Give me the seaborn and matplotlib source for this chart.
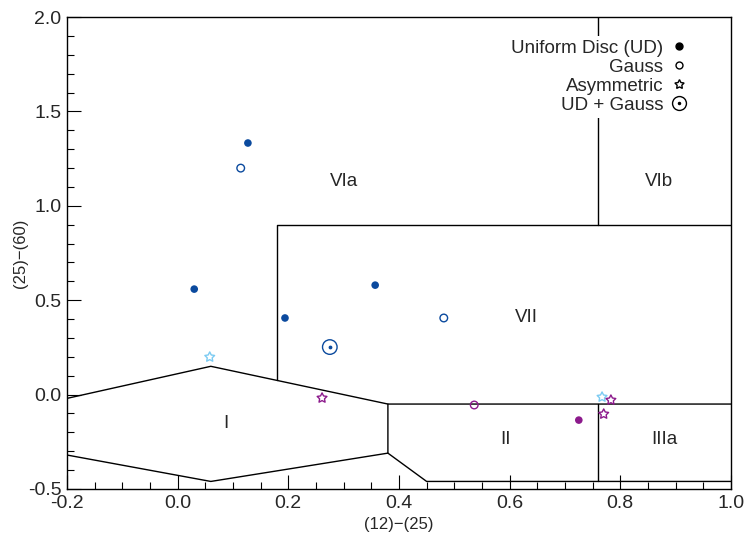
import numpy as np
import pandas as pd
import matplotlib
matplotlib.use('Agg')
import matplotlib.pyplot as plt
from matplotlib.ticker import MultipleLocator, FormatStrFormatter
from matplotlib.lines import Line2D
from matplotlib.legend_handler import HandlerTuple
import seaborn as sns

# Données : couleurs IRAS (12)-(25) et (25)-(60)
ud_x = [0.127, 0.030, 0.194, 0.357, 0.725]
ud_y = [1.333, 0.559, 0.406, 0.580, -0.135]
ud_grp = ['bleu', 'bleu', 'bleu', 'bleu', 'violet']

gauss_x = [0.114, 0.481, 0.536]
gauss_y = [1.200, 0.406, -0.055]
gauss_grp = ['bleu', 'bleu', 'violet']

asym_x = [0.058, 0.767, 0.261, 0.783, 0.770]
asym_y = [0.199, -0.013, -0.018, -0.029, -0.103]
asym_grp = ['clair', 'clair', 'violet', 'violet', 'violet']

udg_x = [0.275]
udg_y = [0.252]
udg_grp = ['bleu']

region_labels = ['VIa', 'VIb', 'VII', 'I', 'II', 'IIIa']
region_x = [0.30, 0.87, 0.63, 0.087, 0.593, 0.879]
region_y = [1.13, 1.13, 0.41, -0.155, -0.24, -0.24]

couleurs = {'bleu': '#0b4a9e', 'clair': '#7ccbf2', 'violet': '#8c1a8c'}

sns.set_style('white')
plt.rcParams['font.family'] = ['Liberation Sans', 'DejaVu Sans']

fig = plt.figure(figsize=(7.44, 5.35), dpi=100)
ax = fig.add_axes([0.090, 0.086, 0.8925, 0.882])

# Limites des régions (van der Veen & Habing)
lw = 1.0
ax.plot([0.18, 0.18, 1.0], [0.075, 0.9, 0.9], color='black', lw=lw)
ax.plot([0.76, 0.76], [0.9, 2.0], color='black', lw=lw)
ax.plot([-0.2, 0.06, 0.38, 1.0], [-0.02, 0.15, -0.05, -0.05], color='black', lw=lw)
ax.plot([-0.2, 0.06, 0.38, 0.38], [-0.32, -0.46, -0.31, -0.05], color='black', lw=lw)
ax.plot([0.38, 0.45, 1.0], [-0.31, -0.46, -0.46], color='black', lw=lw)
ax.plot([0.76, 0.76], [-0.05, -0.46], color='black', lw=lw)

for lab, x, y in zip(region_labels, region_x, region_y):
    ax.text(x, y, lab, ha='center', va='center', fontsize=13.5)

df_ud = pd.DataFrame({'x': ud_x, 'y': ud_y, 'g': ud_grp})
df_ga = pd.DataFrame({'x': gauss_x, 'y': gauss_y, 'g': gauss_grp})
df_as = pd.DataFrame({'x': asym_x, 'y': asym_y, 'g': asym_grp})
df_ug = pd.DataFrame({'x': udg_x, 'y': udg_y, 'g': udg_grp})

sns.scatterplot(data=df_ud, x='x', y='y', hue='g', palette=couleurs, marker='o',
                s=30, linewidth=0, legend=False, ax=ax, zorder=3)
for _, r in df_ga.iterrows():
    ax.scatter(r.x, r.y, s=30, marker='o', facecolors='none',
               edgecolors=couleurs[r.g], linewidths=1.0, zorder=3)
for _, r in df_as.iterrows():
    ax.scatter(r.x, r.y, s=55, marker=(5, 1, 0), facecolors='none',
               edgecolors=couleurs[r.g], linewidths=1.0, zorder=3)
for _, r in df_ug.iterrows():
    ax.scatter(r.x, r.y, s=110, marker='o', facecolors='none',
               edgecolors=couleurs[r.g], linewidths=1.0, zorder=3)
    ax.scatter(r.x, r.y, s=3, marker='o', color=couleurs[r.g], zorder=3)

ax.set_xlim(-0.2, 1.0)
ax.set_ylim(-0.5, 2.0)
ax.xaxis.set_major_locator(MultipleLocator(0.2))
ax.xaxis.set_minor_locator(MultipleLocator(0.05))
ax.yaxis.set_major_locator(MultipleLocator(0.5))
ax.yaxis.set_minor_locator(MultipleLocator(0.1))
ax.xaxis.set_major_formatter(FormatStrFormatter('%.1f'))
ax.yaxis.set_major_formatter(FormatStrFormatter('%.1f'))
ax.tick_params(which='both', direction='in', top=False, right=False,
               bottom=True, left=True, labelsize=14, width=0.8, color='black')
ax.tick_params(which='major', length=10, pad=4)
ax.tick_params(which='minor', length=5)
for sp in ax.spines.values():
    sp.set_color('black')
    sp.set_linewidth(1.0)

ax.set_xlabel('(12)\u2212(25)', fontsize=12, labelpad=4)
ax.set_ylabel('(25)\u2212(60)', fontsize=12, labelpad=0)

h_ud = Line2D([], [], ls='none', marker='o', color='black', markersize=5)
h_ga = Line2D([], [], ls='none', marker='o', markerfacecolor='none',
              markeredgecolor='black', markersize=5)
h_as = Line2D([], [], ls='none', marker=(5, 1, 0), markerfacecolor='none',
              markeredgecolor='black', markersize=7)
h_ug1 = Line2D([], [], ls='none', marker='o', markerfacecolor='none',
               markeredgecolor='black', markersize=10, markeredgewidth=1.0)
h_ug2 = Line2D([], [], ls='none', marker='o', color='black', markersize=1.5)
leg = ax.legend([h_ud, h_ga, h_as, (h_ug1, h_ug2)],
                ['Uniform Disc (UD)', 'Gauss', 'Asymmetric', 'UD + Gauss'],
                handler_map={tuple: HandlerTuple(ndivide=1, pad=0)},
                loc='upper right', bbox_to_anchor=(0.952, 0.98), markerfirst=False,
                frameon=True, fontsize=13.5, handlelength=0.7, handletextpad=0.5,
                labelspacing=0.1, borderpad=0.2)
leg.get_frame().set_edgecolor('none')
leg.get_frame().set_facecolor('white')
leg.get_frame().set_alpha(1.0)
for t in leg.get_texts():
    t.set_ha('right')
leg._legend_box.align = 'right'

fig.savefig('out.png', dpi=100)
